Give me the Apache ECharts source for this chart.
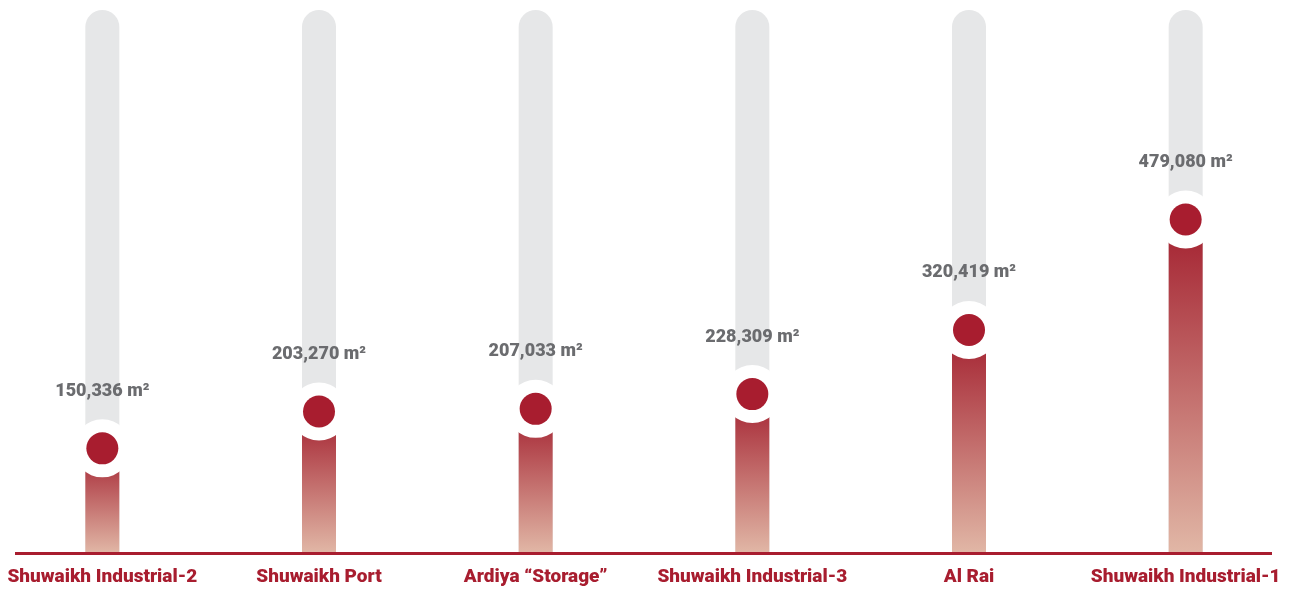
<!DOCTYPE html>
<html>
<head>
<meta charset="utf-8">
<script src="https://cdn.jsdelivr.net/npm/echarts@6/dist/echarts.min.js"></script>
<style>
  html, body { margin: 0; padding: 0; background: #ffffff; }
  #chart { width: 1294px; height: 589px; }
</style>
</head>
<body>
<div id="chart"></div>
<script>
// Land area per site, square metres
const sites = ['Shuwaikh Industrial-2', 'Shuwaikh Port', 'Ardiya \u201cStorage\u201d', 'Shuwaikh Industrial-3', 'Al Rai', 'Shuwaikh Industrial-1'];
const areas = [150336, 203270, 207033, 228309, 320419, 479080];
const areaLabels = ['150,336 m\u00b2', '203,270 m\u00b2', '207,033 m\u00b2', '228,309 m\u00b2', '320,419 m\u00b2', '479,080 m\u00b2'];

const RED = '#a81d2f';
const GREY_TEXT = '#6b6c6f';

const chart = echarts.init(document.getElementById('chart'), null, { renderer: 'canvas' });

chart.setOption({
  backgroundColor: '#ffffff',
  animation: false,
  grid: { left: -6, right: 0, top: 10, bottom: 36, containLabel: false, outerBoundsMode: 'none' },
  xAxis: {
    type: 'category',
    data: sites,
    axisLine: { show: false },
    axisTick: { show: false },
    axisLabel: {
      color: RED,
      fontFamily: 'Roboto',
      fontWeight: 900,
      fontSize: 19,
      margin: 15,
      interval: 0
    }
  },
  yAxis: {
    type: 'value',
    min: 0,
    max: 780000,
    show: false,
    splitLine: { show: false }
  },
  series: [
    {
      type: 'bar',
      data: areas,
      barWidth: 34,
      showBackground: true,
      backgroundStyle: { color: '#e6e7e8', borderRadius: [17, 17, 0, 0] },
      itemStyle: {
        color: new echarts.graphic.LinearGradient(0, 0, 0, 1, [
          { offset: 0, color: '#a3202f' },
          { offset: 1, color: '#e1b7a6' }
        ])
      },
      z: 2
    },
    {
      // white halo around each marker
      type: 'scatter',
      data: areas,
      symbol: 'circle',
      symbolSize: 58,
      itemStyle: { color: '#ffffff', opacity: 1 },
      silent: true,
      z: 3
    },
    {
      type: 'scatter',
      data: areas.map((v, i) => ({ value: v, label: { formatter: areaLabels[i] } })),
      symbol: 'circle',
      symbolSize: 32,
      itemStyle: { color: RED, opacity: 1 },
      label: {
        show: true,
        position: 'top',
        distance: 32,
        color: GREY_TEXT,
        fontFamily: 'Roboto',
        fontWeight: 900,
        fontSize: 18
      },
      z: 4
    }
  ],
  graphic: [
    {
      type: 'rect',
      left: 15,
      top: 552,
      shape: { width: 1257, height: 3 },
      style: { fill: RED },
      z: 10
    }
  ]
});
</script>
</body>
</html>
